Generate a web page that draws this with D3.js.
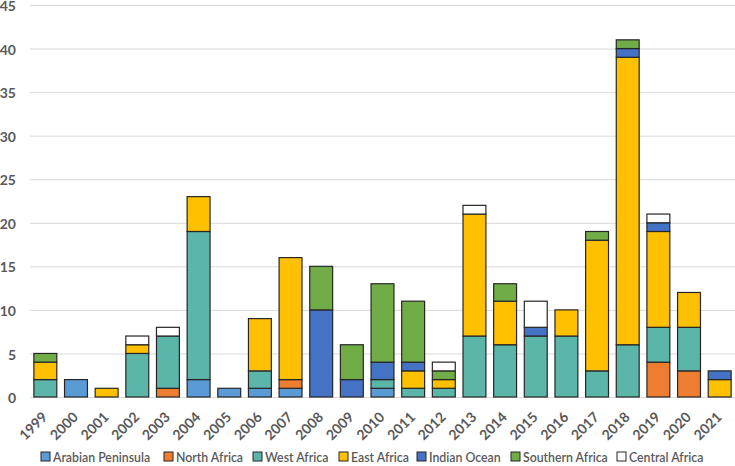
<!DOCTYPE html>
<html><head><meta charset="utf-8">
<script src="https://cdn.jsdelivr.net/npm/d3@7"></script>
<style>body{margin:0;background:#fff}svg{display:block}text{font-family:Lato,"Open Sans",sans-serif}</style>
</head><body>
<svg id="c" width="735" height="466"></svg>
<script>
const years = ["1999","2000","2001","2002","2003","2004","2005","2006","2007","2008","2009","2010","2011","2012","2013","2014","2015","2016","2017","2018","2019","2020","2021"];
const seriesNames = ["Arabian Peninsula","North Africa","West Africa","East Africa","Indian Ocean","Southern Africa","Central Africa"];
const seriesColors = ["#5B9BD5","#ED7D31","#5BB5A9","#FFC000","#4472C4","#70AD47","#FFFFFF"];
const arabianPeninsula = [0,2,0,0,0,2,1,1,1,0,0,1,0,0,0,0,0,0,0,0,0,0,0];
const northAfrica      = [0,0,0,0,1,0,0,0,1,0,0,0,0,0,0,0,0,0,0,0,4,3,0];
const westAfrica       = [2,0,0,5,6,17,0,2,0,0,0,1,1,1,7,6,7,7,3,6,4,5,0];
const eastAfrica       = [2,0,1,1,0,4,0,6,14,0,0,0,2,1,14,5,0,3,15,33,11,4,2];
const indianOcean      = [0,0,0,0,0,0,0,0,0,10,2,2,1,0,0,0,1,0,0,1,1,0,1];
const southernAfrica   = [1,0,0,0,0,0,0,0,0,5,4,9,7,1,0,2,0,0,1,1,0,0,0];
const centralAfrica    = [0,0,0,1,1,0,0,0,0,0,0,0,0,1,1,0,3,0,0,0,1,0,0];
const yTicks = [0,5,10,15,20,25,30,35,40,45];

const seriesData = [arabianPeninsula,northAfrica,westAfrica,eastAfrica,indianOcean,southernAfrica,centralAfrica];
const table = years.map((y,i)=>{const o={year:y};seriesNames.forEach((s,k)=>o[s]=seriesData[k][i]);return o;});
const stacked = d3.stack().keys(seriesNames)(table);

const svg = d3.select("#c");
const x = d3.scaleBand().domain(years).range([30,735]).paddingInner(0.22).paddingOuter(0.11);
const y = d3.scaleLinear().domain([0,45]).range([397,5]);

svg.append("g").selectAll("line").data(yTicks).join("line")
  .attr("x1",30).attr("x2",735).attr("y1",d=>y(d)+0.5).attr("y2",d=>y(d)+0.5)
  .attr("stroke","#d9d9d9").attr("stroke-width",1);

const yAxis = svg.append("g").attr("transform","translate(30,0)")
  .call(d3.axisLeft(y).tickValues(yTicks).tickSize(0).tickPadding(14));
yAxis.select(".domain").remove();
yAxis.selectAll("text").attr("font-size",14).attr("font-weight",700).attr("fill","#595959").attr("font-family","Lato,sans-serif").attr("dy","0.4em");

svg.append("g").selectAll("g").data(stacked).join("g")
  .attr("fill",(d,i)=>seriesColors[i])
  .selectAll("rect").data(d=>d.filter(p=>p[1]>p[0])).join("rect")
  .attr("x",d=>x(d.data.year)+0.5).attr("width",x.bandwidth()-1)
  .attr("y",d=>y(d[1])).attr("height",d=>y(d[0])-y(d[1]))
  .attr("stroke","#262626").attr("stroke-width",1.2);

const xAxis = svg.append("g").attr("transform","translate(0,397)")
  .call(d3.axisBottom(x).tickSize(0).tickPadding(0));
xAxis.select(".domain").remove();
xAxis.selectAll("text")
  .attr("font-size",14).attr("font-weight",700).attr("fill","#595959").attr("font-family","Lato,sans-serif")
  .attr("text-anchor","end").attr("dy",null).attr("y",0)
  .attr("transform","translate(3,21) rotate(-45)");

const legendX = [41,164,253,339,417,511,617];
const lg = svg.append("g").selectAll("g").data(seriesNames).join("g")
  .attr("transform",(d,i)=>`translate(${legendX[i]},452)`);
lg.append("rect").attr("width",9).attr("height",9).attr("fill",(d,i)=>seriesColors[i])
  .attr("stroke","#262626").attr("stroke-width",1);
lg.append("text").attr("x",12).attr("y",9.5).attr("font-size",12.3).attr("font-weight",600).attr("fill","#595959").text(d=>d);
</script>
</body></html>
